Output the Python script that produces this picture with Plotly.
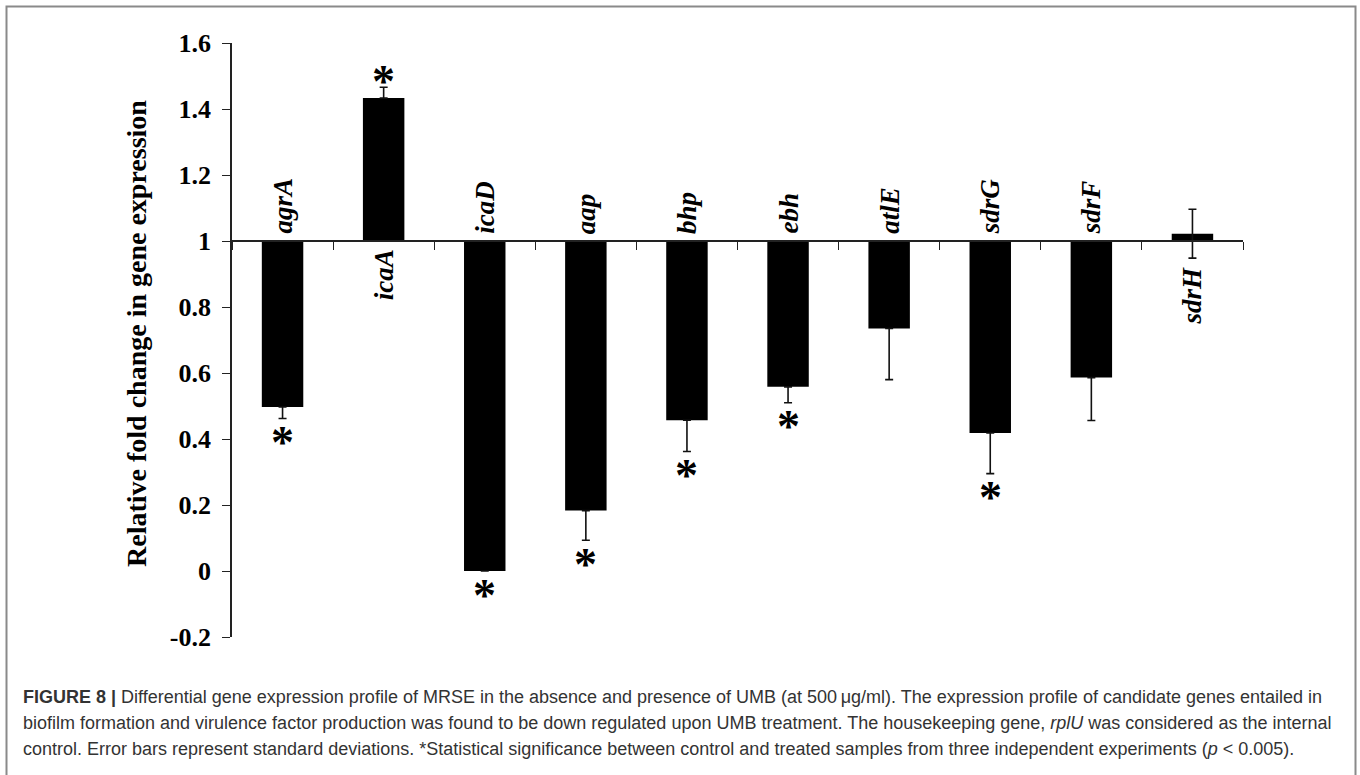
import plotly.graph_objects as go

# ---------------- data ----------------
genes = ["agrA", "icaA", "icaD", "aap", "bhp", "ebh", "atlE", "sdrG", "sdrF", "sdrH"]
fold_change = [0.497, 1.433, 0.0, 0.183, 0.457, 0.558, 0.735, 0.418, 0.586, 1.022]
err_up = [0.0, 0.033, 0.0, 0.0, 0.0, 0.0, 0.0, 0.0, 0.0, 0.074]
err_down = [0.035, 0.0, 0.0, 0.090, 0.095, 0.048, 0.155, 0.123, 0.130, 0.074]
significant = [True, True, True, True, True, True, False, True, False, False]
baseline = 1.0
y_ticks = [-0.2, 0.0, 0.2, 0.4, 0.6, 0.8, 1.0, 1.2, 1.4, 1.6]
y_tick_text = ["-0.2", "0", "0.2", "0.4", "0.6", "0.8", "1", "1.2", "1.4", "1.6"]
y_title = "Relative fold change in gene expression"
caption_lines = [
    "<b>FIGURE 8 |</b> Differential gene expression profile of MRSE in the absence and presence of UMB (at 500\u2009\u03bcg/ml). The expression profile of candidate genes entailed in",
    "biofilm formation and virulence factor production was found to be down regulated upon UMB treatment. The housekeeping gene, <i>rplU</i> was considered as the internal",
    "control. Error bars represent standard deviations. *Statistical significance between control and treated samples from three independent experiments (<i>p</i> < 0.005).",
]

# ---------------- layout geometry ----------------
W, H = 1360, 775
ML, MR, MT, MB = 232, 117, 43, 138
PW, PH = W - ML - MR, H - MT - MB
Y_RANGE = [-0.2, 1.6]


def paper_x(px):
    return (px - ML) / PW


def paper_y(py):
    return (H - MB - py) / PH


SERIF = "Liberation Serif, Times New Roman, serif"
SANS = "Liberation Sans, Arial, sans-serif"

fig = go.Figure()

# bars drawn from the baseline (1) to the value
fig.add_trace(go.Bar(
    x=genes,
    y=[v - baseline for v in fold_change],
    base=baseline,
    width=0.41,
    marker=dict(color="black", line=dict(width=0)),
    showlegend=False,
    hoverinfo="skip",
))

# error bars at bar ends
fig.add_trace(go.Scatter(
    x=genes,
    y=fold_change,
    mode="markers",
    marker=dict(size=1, opacity=0),
    error_y=dict(type="data", symmetric=False, array=err_up, arrayminus=err_down,
                 color="#111111", thickness=1.6, width=4),
    showlegend=False,
    hoverinfo="skip",
))

annotations = []
# gene labels
for g, v, eu, ed in zip(genes, fold_change, err_up, err_down):
    if v < baseline:
        annotations.append(dict(x=g, y=baseline, xref="x", yref="y", text=g, showarrow=False,
                                textangle=-90, yanchor="bottom", xanchor="center", yshift=5,
                                font=dict(family=SERIF, size=27, color="black", weight="bold", style="italic")))
    else:
        low = min(baseline, v - ed)
        annotations.append(dict(x=g, y=low, xref="x", yref="y", text=g, showarrow=False,
                                textangle=-90, yanchor="top", xanchor="center", yshift=-6,
                                font=dict(family=SERIF, size=27, color="black", weight="bold", style="italic")))

# significance asterisks
for g, v, eu, ed, s in zip(genes, fold_change, err_up, err_down, significant):
    if not s:
        continue
    if v < baseline:
        annotations.append(dict(x=g, y=v - ed, xref="x", yref="y", text="*", showarrow=False,
                                yanchor="middle", xanchor="center", yshift=-24,
                                font=dict(family=SERIF, size=46, color="black", weight="bold")))
    else:
        annotations.append(dict(x=g, y=v + eu, xref="x", yref="y", text="*", showarrow=False,
                                yanchor="middle", xanchor="center", yshift=6,
                                font=dict(family=SERIF, size=46, color="black", weight="bold")))

# y axis title
annotations.append(dict(x=paper_x(136), y=paper_y(334), xref="paper", yref="paper", text=y_title,
                        showarrow=False, textangle=-90, xanchor="center", yanchor="middle",
                        font=dict(family=SERIF, size=28, color="black", weight="bold")))

# caption
for i, line in enumerate(caption_lines):
    annotations.append(dict(x=paper_x(21), y=paper_y(697 + 26 * i), xref="paper", yref="paper",
                            text=line, showarrow=False, xanchor="left", yanchor="middle", align="left",
                            font=dict(family=SANS, size=18, color="#333333")))

shapes = [
    dict(type="rect", xref="paper", yref="paper",
         x0=paper_x(6.5), x1=paper_x(1355.5), y0=paper_y(790), y1=paper_y(6.5),
         line=dict(color="#8a8a8a", width=2), fillcolor="rgba(0,0,0,0)", layer="below"),
]

fig.update_layout(
    width=W, height=H,
    margin=dict(l=ML, r=MR, t=MT, b=MB, pad=0),
    paper_bgcolor="white", plot_bgcolor="white",
    bargap=0.6,
    annotations=annotations,
    shapes=shapes,
    xaxis=dict(
        type="category", range=[-0.5, len(genes) - 0.5],
        anchor="free", position=(baseline - Y_RANGE[0]) / (Y_RANGE[1] - Y_RANGE[0]),
        showline=True, linecolor="#222222", linewidth=1.6,
        ticks="outside", tickson="boundaries", ticklen=8, tickwidth=1.4, tickcolor="#222222",
        showticklabels=False, showgrid=False, zeroline=False,
    ),
    yaxis=dict(
        range=Y_RANGE, tickvals=y_ticks, ticktext=y_tick_text,
        showline=True, linecolor="#222222", linewidth=1.6,
        ticks="outside", ticklen=8, tickwidth=1.4, tickcolor="#222222",
        ticklabelstandoff=6,
        tickfont=dict(family=SERIF, size=26, color="black", weight="bold"),
        showgrid=False, zeroline=False,
    ),
)

fig.write_html("out.html", config={"displayModeBar": False},
               post_script="document.body.style.margin='0';")
